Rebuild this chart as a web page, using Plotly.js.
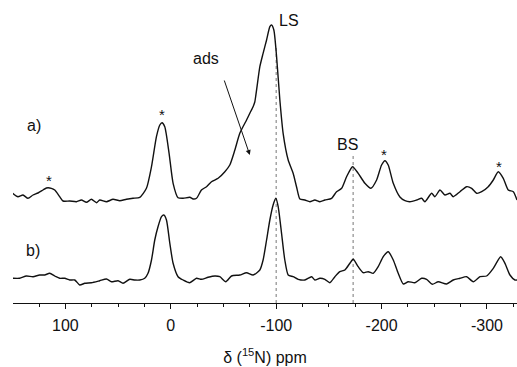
<!DOCTYPE html>
<html>
<head>
<meta charset="utf-8">
<script src="https://cdn.plot.ly/plotly-3.0.1.min.js"></script>
<style>html,body{margin:0;padding:0;background:#fff;}#chart{width:517px;height:367px;}</style>
</head>
<body>
<div id="chart"></div>
<script>
// Spectrum a) : chemical shift (ppm) and intensity (arbitrary units, baseline 0)
const ppmA = [150,145,140.2,135.5,130.7,126,121.2,118,113.3,110.1,105.4,102.2,95.9,89.5,84.8,80,75.3,70.5,67.4,61,54.8,48.4,42.1,35.8,29.4,23.1,18.3,13.6,10.4,8.3,5.7,1.6,-2.2,-6.9,-11.7,-18,-21.2,-24.4,-29.1,-33.9,-38.6,-44.9,-51.3,-56,-60.8,-65.5,-71.9,-75,-78.1,-79.7,-84.5,-87.6,-90.9,-94,-95.6,-97.8,-100.4,-103.5,-106.6,-111.4,-116.1,-119.3,-122.5,-127.2,-132,-136.7,-141.5,-146.2,-152.6,-157.3,-162.1,-166.8,-172.5,-177.8,-184.2,-189.9,-195.3,-200,-203.2,-206.3,-211.1,-217.4,-222.2,-226.9,-233.3,-238,-241.1,-247.5,-250.6,-255.4,-260.1,-264.9,-268,-274.4,-280.7,-285.5,-290.2,-295,-301.2,-306,-310.7,-315.5,-320.2,-325,-328.5];
const intA = [6.7,3.3,5,1.7,5,7,10,12,11.7,10,3.3,-1,-1,-1.7,0,-2.3,0.7,-2.7,0,-1.7,0.7,-0.7,0.7,1.7,2.7,11.7,33.3,63.3,75,77.3,73.3,46.7,16.7,2.3,1.7,2.7,1,1.7,10,13.3,18.3,21.7,28.3,35,50,66.7,80,86.7,93.3,98,133.3,146.7,160,173.3,175,170,143.3,100,66.7,40,26.7,13.3,1,0,-1.7,0,-1.7,0,1.7,8.3,11.7,23.3,33.3,26.7,16.7,11.7,20,35,39.3,35,16.7,3,-0.7,-1.7,0,1.7,-1.7,6.7,3.3,10,5,6.7,3.3,8.3,13.3,11.7,6.7,8.3,13.3,20,28.3,21.7,10,8.3,0];

// Spectrum b)
const ppmB = [150,143.4,137,130.7,124.4,119.6,114.9,110.1,105.4,100.6,95.9,91.1,86.4,81.6,75.3,67.4,61,56.3,50,45.3,38.9,34.2,29.4,24.7,21.6,18.3,15.2,12.1,8.8,6.6,4.1,0.9,-2.2,-6.9,-11.7,-18,-24.4,-29.1,-35.4,-41.8,-46.5,-52.2,-57.6,-65.5,-71.9,-78.1,-84.5,-87.6,-90.9,-94,-97.1,-99.7,-101.9,-105.1,-108.2,-111.4,-116.1,-120.9,-127.2,-133.6,-136.7,-141.5,-146.2,-150.9,-155.7,-160.4,-165.2,-169.9,-173.1,-177.8,-182.6,-187.3,-192.1,-196.8,-201.6,-206.3,-211.1,-215.8,-220.6,-225.3,-231.6,-238,-242.7,-248.1,-253.8,-261.7,-268,-274.4,-280.7,-287,-293.4,-299.7,-306,-313,-317.1,-321.8,-326.6,-328.5];
const intB = [1.7,1.7,4,3.3,5,5,6.7,4,1.7,1.7,0,0,-5,-3.3,-2.7,-0.7,1,-1.7,-0.7,-3.3,0.7,0,0,1.7,6.7,20,40,53.3,63.3,65,60,36.7,16.7,3.3,0,-2.7,1.7,0.7,2.7,4,3.3,-1.7,4,5,7.3,5,10,20,40,60,75,81.7,73.3,46.7,20,5,3.3,0.7,0,3.3,0,1.7,0.7,-2.7,3.3,8.3,10,16.7,20.7,13.3,7.3,8.3,6.7,13.3,23.3,28.3,20,6.7,-4,-1.7,-2.7,1.7,0.7,-4.3,-1.7,-4,0,1.7,3.3,-1.7,3.3,4,11.7,23.3,16.7,5,0,0];

// Vertical stacking offsets of the two spectra
const OFFSET_A = 103;
const OFFSET_B = 23;

// Assigned resonances (dotted guide lines)
const guidePpm = [-100, -173];
const guideTop = [258, 150];

// Spinning sidebands (asterisks)
const starPpm = [115.8, 8.5, -202.2, -311.4];
const starY = [123, 189, 149, 137];

// Axis ticks and their labels (hyphen minus as in the original)
const xTicks = [100, 0, -100, -200, -300];
const xTickText = ['100', '0', '-100', '-200', '-300'];

const font = {family: 'Liberation Sans, Arial, sans-serif', color: '#111'};

const traces = [
  {x: ppmA, y: intA.map(v => v + OFFSET_A), type: 'scatter', mode: 'lines',
   line: {color: '#111', width: 1.4, shape: 'spline', smoothing: 0.6}, hoverinfo: 'skip'},
  {x: ppmB, y: intB.map(v => v + OFFSET_B), type: 'scatter', mode: 'lines',
   line: {color: '#111', width: 1.4, shape: 'spline', smoothing: 0.6}, hoverinfo: 'skip'}
];

const shapes = guidePpm.map((p, i) => ({
  type: 'line', xref: 'x', yref: 'y', x0: p, x1: p, y0: 0, y1: guideTop[i],
  line: {color: '#777', width: 1, dash: 'dot'}, layer: 'below'
}));

const annotations = [
  {x: -112, y: 283, text: 'LS'},
  {x: -168, y: 159, text: 'BS'},
  {x: -33.2, y: 244.5, text: 'ads'},
  {x: 129.6, y: 177.5, text: 'a)'},
  {x: 130.5, y: 52.5, text: 'b)'}
].map(a => Object.assign({xref: 'x', yref: 'y', showarrow: false, font: Object.assign({size: 16}, font)}, a));

starPpm.forEach((p, i) => annotations.push({
  xref: 'x', yref: 'y', x: p, y: starY[i], text: '*', showarrow: false,
  font: Object.assign({size: 15}, font)
}));

annotations.push({
  xref: 'x', yref: 'y', axref: 'x', ayref: 'y',
  x: -75, y: 148, ax: -50.3, ay: 224, text: '', showarrow: true,
  arrowhead: 2, arrowsize: 1, arrowwidth: 1, arrowcolor: '#111'
});

const layout = {
  width: 517, height: 367,
  margin: {l: 13, r: 0, t: 0, b: 64},
  paper_bgcolor: '#fff', plot_bgcolor: '#fff',
  showlegend: false,
  font: Object.assign({size: 16}, font),
  xaxis: {
    range: [149.7, -328.5], autorange: false,
    tickmode: 'array', tickvals: xTicks, ticktext: xTickText,
    ticks: 'outside', ticklen: 5, tickwidth: 1, tickcolor: '#111',
    ticklabelstandoff: 3,
    minor: {dtick: 25, tick0: 0, ticks: 'outside', ticklen: 3, tickwidth: 1, tickcolor: '#111'},
    showline: true, linecolor: '#111', linewidth: 1,
    showgrid: false, zeroline: false,
    tickfont: Object.assign({size: 16}, font),
    title: {text: 'δ (<sup>15</sup>N) ppm', font: Object.assign({size: 16}, font), standoff: 18},
    automargin: false
  },
  yaxis: {range: [0, 303], autorange: false, visible: false, fixedrange: true},
  shapes: shapes,
  annotations: annotations
};

Plotly.newPlot('chart', traces, layout, {staticPlot: true, displayModeBar: false});
</script>
</body>
</html>
